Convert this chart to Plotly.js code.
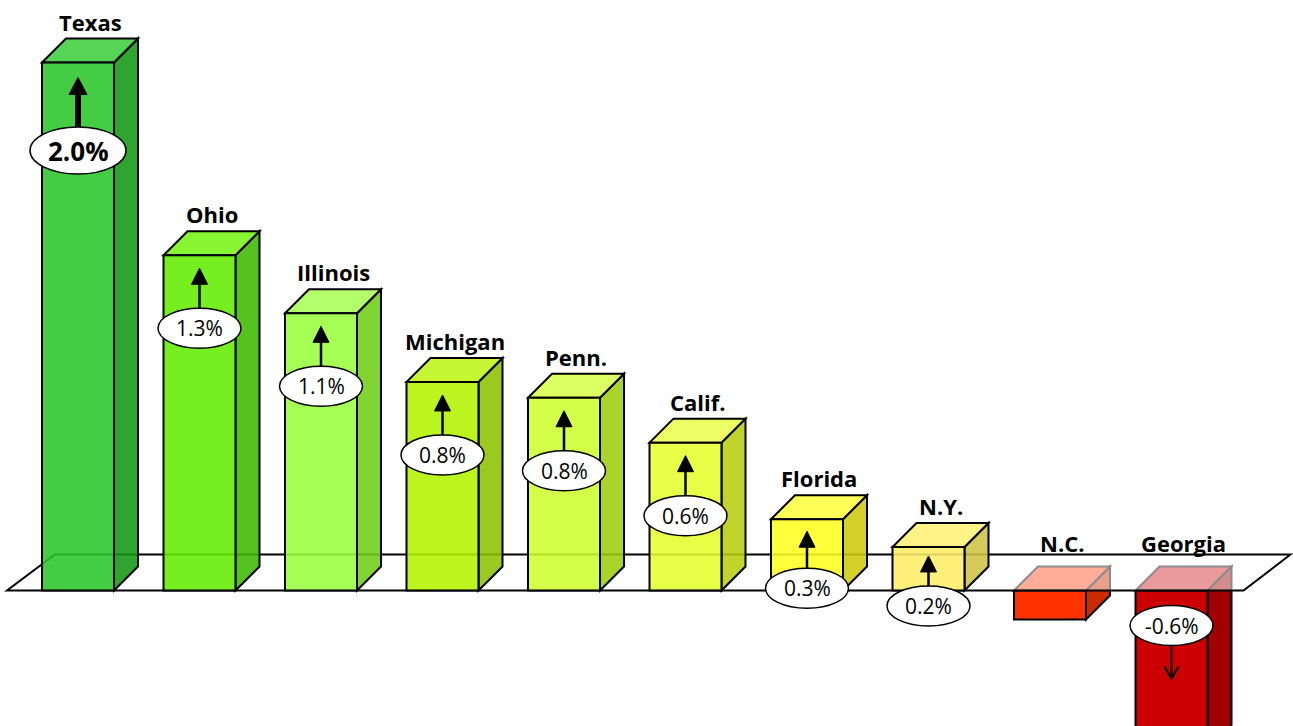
<!DOCTYPE html>
<html>
<head>
<meta charset="utf-8">
<script src="https://cdn.plot.ly/plotly-3.0.1.min.js"></script>
<style>html,body{margin:0;padding:0;background:#fff;}#chart{width:1293px;height:726px;}</style>
</head>
<body>
<div id="chart"></div>
<script>
// ---- data ----
const categories = ['Texas','Ohio','Illinois','Michigan','Penn.','Calif.','Florida','N.Y.','N.C.','Georgia'];
const changeValues = [2.0, 1.27, 1.05, 0.79, 0.73, 0.56, 0.27, 0.165, -0.11, -0.6];
const changeLabels = ['2.0%','1.3%','1.1%','0.8%','0.8%','0.6%','0.3%','0.2%','','-0.6%'];

// ---- style ----
const frontColors = ['#44cc44','#77ee1e','#a6ff55','#bbf41f','#d4ff48','#e8ff48','#ffff3c','#fff07a','#ff3300','#cc0000'];
const sideColors  = ['#2ea42e','#55c208','#80d432','#9ac800','#aad42a','#c0d42c','#d4d22a','#d4cb5a','#cc2a00','#a00000'];
const topColors   = ['#56d456','#86f532','#b2ff6a','#c6f634','#dcff62','#eeff66','#ffff58','#fff286','#ff4a1e','#d02020'];
const FONT = '"Open Sans", Lato, sans-serif';

const W = 1293, H = 726;
const X0PX = 78, SLOT = 121.5;    // pixel of first category, pixels per category
const ZEROPX = 590.5, UNIT = 264; // pixel of 0%, pixels per 1%
const px = p => p / SLOT;          // horizontal pixels -> x units
const py = p => p / UNIT;          // vertical pixels -> y units
const HW = px(36), DX = px(24), DY = py(24);

const xRange = [-X0PX / SLOT, (W - X0PX) / SLOT];
const yRange = [-(H - ZEROPX) / UNIT, ZEROPX / UNIT];

// colour that shows as `hex` when laid with alpha `a` over white
function rgba(hex, a) {
  const n = parseInt(hex.slice(1), 16);
  const f = t => Math.max(0, Math.min(255, Math.round((t - 255 * (1 - a)) / a)));
  return `rgba(${f((n>>16)&255)},${f((n>>8)&255)},${f(n&255)},${a})`;
}
function poly(pts) {
  return 'M ' + pts.map(p => p[0] + ',' + p[1]).join(' L ') + ' Z';
}
function pathShape(pts, fill, lw) {
  return {type:'path', xref:'x', yref:'y', path: poly(pts), fillcolor: fill,
          line:{color:'#000', width: lw === undefined ? 2 : lw}, layer:'above'};
}
function barShapes(i, alpha) {
  const v = changeValues[i];
  const top = Math.max(v, 0), bot = Math.min(v, 0);
  const l = i - HW, r = i + HW;
  return [
    pathShape([[r,bot],[r+DX,bot+DY],[r+DX,top+DY],[r,top]], rgba(sideColors[i], alpha)),
    pathShape([[l,top],[r,top],[r+DX,top+DY],[l+DX,top+DY]], rgba(topColors[i], alpha)),
    pathShape([[l,bot],[r,bot],[r,top],[l,top]], rgba(frontColors[i], alpha))
  ];
}

const shapes = [];
// negative bars (behind the floor)
categories.forEach((c, i) => { if (changeValues[i] < 0) shapes.push(...barShapes(i, 1)); });
// floor
const last = categories.length - 1;
const fl = 0 - px(71), fr = last + px(72);
shapes.push(pathShape([[fl,0],[fr,0],[fr+px(47),py(36)],[fl+px(48),py(36)]], 'rgba(255,255,255,0.55)', 2));
// positive bars
categories.forEach((c, i) => { if (changeValues[i] >= 0) shapes.push(...barShapes(i, 0.88)); });

// value bubbles and arrows
const bubbleOffset = {'Texas':88, 'Florida':69, 'N.Y.':59};
const tipOffset = {'Texas':15, 'Florida':12, 'N.Y.':9};
const annotations = [];
categories.forEach((c, i) => {
  const v = changeValues[i];
  const big = (i === 0);
  const ew = big ? 48 : 41.5, eh = big ? 23.5 : 20;
  // name label
  annotations.push({x: i + DX/2, y: Math.max(v,0) + DY, xref:'x', yref:'y', showarrow:false,
    text:'<b>' + c + '</b>', yanchor:'middle', yshift: v < 0 ? 24 : 17,
    font:{family:FONT, size:22, color:'#000'}});
  if (!changeLabels[i]) return;
  let cy, tipY, baseY, dir;
  if (v >= 0) {
    cy = v - py(bubbleOffset[c] || 73);
    tipY = v - py(tipOffset[c] || 13);
    baseY = cy + py(eh);
    dir = 1;
  } else {
    cy = 0 - py(35);
    baseY = cy - py(eh);
    tipY = 0 - py(88);
    dir = -1;
  }
  if (dir === 1) {
    const hh = py(big ? 17 : 16), hw2 = px(big ? 9 : 8);
    shapes.push({type:'line', xref:'x', yref:'y', x0:i, x1:i, y0:baseY, y1:tipY - hh + py(2),
      line:{color:'#000', width: big ? 6 : 2.5}, layer:'above'});
    shapes.push({type:'path', xref:'x', yref:'y', path: poly([[i - hw2, tipY - hh],[i + hw2, tipY - hh],[i, tipY]]),
      fillcolor:'#000', line:{color:'#000', width:1}, layer:'above'});
  } else {
    shapes.push({type:'line', xref:'x', yref:'y', x0:i, x1:i, y0:baseY, y1:tipY,
      line:{color:'#000', width:2}, layer:'above'});
    shapes.push({type:'path', xref:'x', yref:'y',
      path: 'M ' + (i - px(7)) + ',' + (tipY + py(12)) + ' L ' + i + ',' + tipY + ' L ' + (i + px(7)) + ',' + (tipY + py(12)),
      line:{color:'#000', width:2}, layer:'above'});
  }
  shapes.push({type:'circle', xref:'x', yref:'y', x0: i - px(ew), x1: i + px(ew), y0: cy - py(eh), y1: cy + py(eh),
    fillcolor:'#fff', line:{color:'#000', width:1.5}, layer:'above'});
  annotations.push({x:i, y:cy, xref:'x', yref:'y', showarrow:false,
    text: big ? '<b>' + changeLabels[i] + '</b>' : changeLabels[i],
    font:{family:FONT, size: big ? 26 : 21, color:'#000'}});
});

const data = [{x: categories.map((c,i)=>i), y: changeValues, type:'scatter', mode:'markers',
  marker:{opacity:0}, hoverinfo:'skip', showlegend:false}];

const layout = {
  width: W, height: H, autosize:false,
  margin:{l:0, r:0, t:0, b:0, pad:0},
  paper_bgcolor:'#fff', plot_bgcolor:'#fff',
  showlegend:false,
  xaxis:{range:xRange, visible:false, fixedrange:true},
  yaxis:{range:yRange, visible:false, fixedrange:true},
  shapes: shapes,
  annotations: annotations
};
Plotly.newPlot('chart', data, layout, {staticPlot:true, displayModeBar:false});
</script>
</body>
</html>
